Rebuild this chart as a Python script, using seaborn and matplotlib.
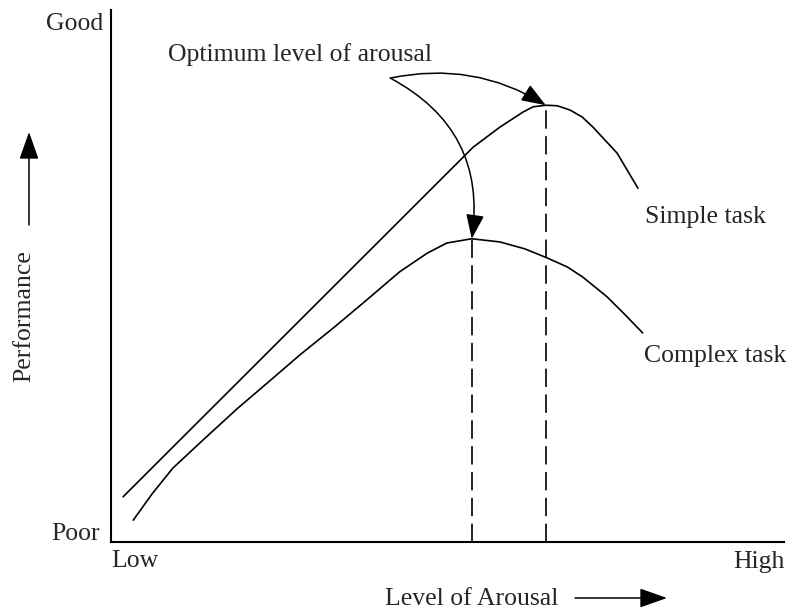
import numpy as np
import pandas as pd
import seaborn as sns
from matplotlib import pyplot as plt

# curve values (arousal 0-100, performance 0-100)
simple_x = [1.8, 53.8, 57.8, 61.2, 62.7, 64.6, 66.3, 68.2, 70.0, 71.6, 75.2, 78.3]
simple_y = [8.5, 74.2, 78.0, 80.8, 81.8, 82.1, 82.0, 81.2, 79.9, 78.0, 73.1, 66.5]
complex_x = [3.3, 6.2, 9.2, 13.7, 18.7, 23.6, 28.1, 33.0, 38.0, 42.9, 47.0, 49.9, 53.6,
             57.8, 61.5, 64.8, 67.8, 70.1, 73.7, 76.4, 79.0]
complex_y = [4.1, 9.2, 13.9, 19.2, 25.0, 30.3, 35.2, 40.2, 45.5, 50.8, 54.3, 56.2, 57.0,
             56.4, 55.1, 53.4, 51.7, 49.8, 46.1, 42.7, 39.3]
curve_labels = ['Simple task', 'Complex task']
y_labels = ['Poor', 'Good']
x_labels = ['Low', 'High']

W, H = 794, 615


def fx(px):
    return px / W


def fy(py):
    return 1 - py / H


sns.set_style('white')
plt.rcParams['font.family'] = ['Liberation Serif', 'DejaVu Serif']
FS = 18.5

df = pd.concat([
    pd.DataFrame({'arousal': simple_x, 'performance': simple_y, 'task': curve_labels[0]}),
    pd.DataFrame({'arousal': complex_x, 'performance': complex_y, 'task': curve_labels[1]}),
])

fig = plt.figure(figsize=(W / 100, H / 100), dpi=100)
ax = fig.add_axes([fx(111), fy(542), fx(784) - fx(111), fy(10) - fy(542)])

sns.lineplot(data=df, x='arousal', y='performance', units='task', estimator=None, sort=False,
             color='black', lw=1.2, ax=ax, solid_joinstyle='round')

ax.set_xlim(0, 100)
ax.set_ylim(0, 100)
ax.set_xticks([])
ax.set_yticks([])
ax.set_xlabel('')
ax.set_ylabel('')
sns.despine(ax=ax)
for s in ['left', 'bottom']:
    ax.spines[s].set_linewidth(1.5)
    ax.spines[s].set_color('black')

# dashed drops from each optimum
peaks = []
for xs, ys in [(simple_x, simple_y), (complex_x, complex_y)]:
    i = int(np.argmax(ys))
    peaks.append((xs[i], ys[i]))
    ax.plot([xs[i], xs[i]], [0, ys[i]], color='black', lw=1.2, ls=(0, (11, 4.5)))

# arrows from the "optimum" label to both peaks
start = (41.5, 87.2)
head = '-|>,head_length=0.75,head_width=0.28'
for (px_, py_), rad in zip(peaks, [-0.2, -0.35]):
    ax.annotate('', xy=(px_, py_), xytext=start,
                arrowprops=dict(arrowstyle=head, mutation_scale=20, color='black', lw=1.1,
                                shrinkA=0, shrinkB=0, connectionstyle=f'arc3,rad={rad}'))

fig.text(fx(168), fy(61), 'Optimum level of arousal', fontsize=FS, ha='left', va='baseline')
fig.text(fx(645), fy(223), curve_labels[0], fontsize=FS, ha='left', va='baseline')
fig.text(fx(644), fy(362), curve_labels[1], fontsize=FS, ha='left', va='baseline')

fig.text(fx(103), fy(30), y_labels[1], fontsize=FS, ha='right', va='baseline')
fig.text(fx(100), fy(540), y_labels[0], fontsize=FS, ha='right', va='baseline')
fig.text(fx(111), fy(567), x_labels[0], fontsize=FS, ha='left', va='baseline')
fig.text(fx(785), fy(568), x_labels[1], fontsize=FS, ha='right', va='baseline')

fig.text(fx(385), fy(605), 'Level of Arousal', fontsize=FS, ha='left', va='baseline')
fig.text(fx(24), fy(316), 'Performance', fontsize=FS, ha='center', va='center', rotation=90)

axis_head = '-|>,head_length=0.85,head_width=0.3'
ax.annotate('', xy=(fx(667), fy(598)), xytext=(fx(575), fy(598)), xycoords='figure fraction',
            annotation_clip=False,
            arrowprops=dict(arrowstyle=axis_head, mutation_scale=20, color='black', lw=1.1,
                            shrinkA=0, shrinkB=0))
ax.annotate('', xy=(fx(29), fy(132)), xytext=(fx(29), fy(225)), xycoords='figure fraction',
            annotation_clip=False,
            arrowprops=dict(arrowstyle=axis_head, mutation_scale=20, color='black', lw=1.1,
                            shrinkA=0, shrinkB=0))

plt.savefig('out.png', dpi=100)
